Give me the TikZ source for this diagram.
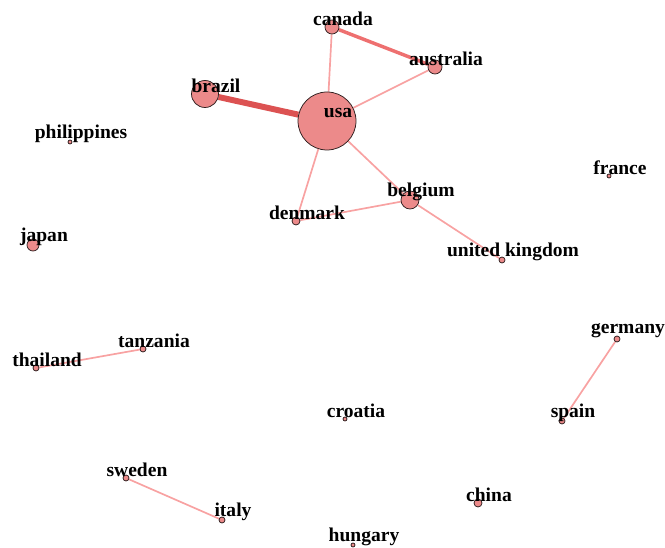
\documentclass[tikz,border=0pt]{standalone}
\usepackage{fontspec}
\setmainfont{Liberation Serif}
\usepackage{tikz}
\usetikzlibrary{backgrounds}
\definecolor{nodefill}{RGB}{236,138,138}
\definecolor{nodeline}{RGB}{45,30,30}
\definecolor{edgelight}{RGB}{248,162,162}
\definecolor{edgemid}{RGB}{238,112,112}
\definecolor{edgedark}{RGB}{220,82,82}
\tikzset{
  country/.style={circle, draw=nodeline, fill=nodefill, line width=0.75pt, inner sep=0pt},
  tag/.style={font=\fontsize{19.6}{20}\selectfont\bfseries, text=black, inner sep=0pt,
    xshift=11bp, yshift=8bp},
  link/.style={draw=edgelight, line width=1.7pt},
  midlink/.style={draw=edgemid, line width=3.5pt},
  heavylink/.style={draw=edgedark, line width=6pt}
}
\begin{document}
\begin{tikzpicture}[x=1bp, y=-1bp]
\useasboundingbox (0,0) rectangle (665,548);
% connected component in the top half
\node[country, minimum size=58bp, label={[tag]center:usa}] (usa) at (327,121) {};
\node[country, minimum size=27bp, label={[tag]center:brazil}] (brazil) at (205,94) {};
\node[country, minimum size=14bp, label={[tag]center:canada}] (canada) at (332,27) {};
\node[country, minimum size=14bp, label={[tag]center:australia}] (australia) at (435,67) {};
\node[country, minimum size=18bp, label={[tag]center:belgium}] (belgium) at (410,200) {};
\node[country, minimum size=8bp, label={[tag]center:denmark}] (denmark) at (296,221) {};
\node[country, minimum size=6bp, label={[tag]center:united kingdom}] (uk) at (502,260) {};
% the rest
\node[country, minimum size=4bp, label={[tag]center:france}] (france) at (609,176) {};
\node[country, minimum size=4bp, label={[tag]center:philippines}] (philippines) at (70,142) {};
\node[country, minimum size=12bp, label={[tag]center:japan}] (japan) at (33,245) {};
\node[country, minimum size=6bp, label={[tag]center:tanzania}] (tanzania) at (143,349) {};
\node[country, minimum size=6bp, label={[tag]center:thailand}] (thailand) at (36,368) {};
\node[country, minimum size=6bp, label={[tag]center:germany}] (germany) at (617,339) {};
\node[country, minimum size=6bp, label={[tag]center:spain}] (spain) at (562,421) {};
\node[country, minimum size=4bp, label={[tag]center:croatia}] (croatia) at (345,419) {};
\node[country, minimum size=6bp, label={[tag]center:sweden}] (sweden) at (126,478) {};
\node[country, minimum size=6bp, label={[tag]center:italy}] (italy) at (222,520) {};
\node[country, minimum size=8bp, label={[tag]center:china}] (china) at (478,503) {};
\node[country, minimum size=4bp, label={[tag]center:hungary}] (hungary) at (353,545) {};

\begin{scope}[on background layer]
\draw[heavylink] (brazil) -- (usa);
\draw[midlink] (canada) -- (australia);
\draw[link] (usa) -- (canada);
\draw[link] (usa) -- (australia);
\draw[link] (usa) -- (belgium);
\draw[link] (usa) -- (denmark);
\draw[link] (denmark) -- (belgium);
\draw[link] (belgium) -- (uk);
\draw[link] (thailand) -- (tanzania);
\draw[link] (germany) -- (spain);
\draw[link] (sweden) -- (italy);
\end{scope}
\end{tikzpicture}
\end{document}
